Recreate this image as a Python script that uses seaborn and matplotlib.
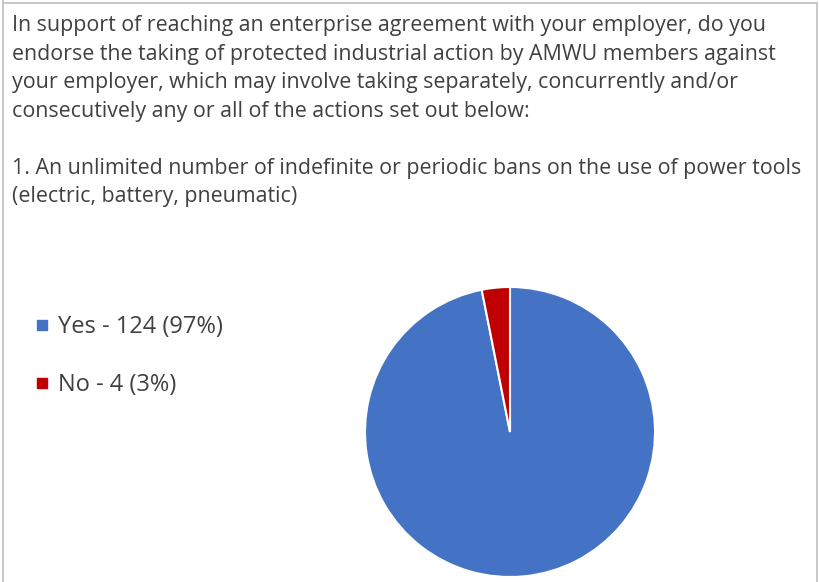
import matplotlib.pyplot as plt
import seaborn as sns
from matplotlib.lines import Line2D

# data
answers = ["Yes", "No"]
counts = [124, 4]
percents = [97, 3]
colors = ["#4472C4", "#C00000"]
title_lines = [
    "In support of reaching an enterprise agreement with your employer, do you",
    "endorse the taking of protected industrial action by AMWU members against",
    "your employer, which may involve taking separately, concurrently and/or",
    "consecutively any or all of the actions set out below:",
    "",
    "1. An unlimited number of indefinite or periodic bans on the use of power tools",
    "(electric, battery, pneumatic)",
]

sns.set_theme(style="white")
plt.rcParams['font.family'] = ['Open Sans', 'DejaVu Sans']

W, H = 819, 582
fig = plt.figure(figsize=(W / 100, H / 100), dpi=100)

# outer frame
for xs, ys in [([3, 3], [0, 582]), ([3, 817], [3, 3]), ([817, 817], [3, 582])]:
    fig.add_artist(Line2D([x / W for x in xs], [1 - y / H for y in ys], color="#BFBFBF", lw=1.2))

# question text
fig.text(12 / W, 1 - 15 / H, "\n".join(title_lines), ha="left", va="top",
         fontsize=15.4, color="#404040", linespacing=1.47)

# pie
cx, cy, r = 510, 432, 145
ax = fig.add_axes([(cx - r) / W, 1 - (cy + r) / H, 2 * r / W, 2 * r / H])
ax.pie(counts, colors=colors, startangle=90, counterclock=False,
       wedgeprops=dict(edgecolor="white", linewidth=1.5))
ax.set_xlim(-1, 1)
ax.set_ylim(-1, 1)
ax.set_aspect("equal")
ax.axis("off")

# legend
labels = [f"{a} - {c} ({p}%)" for a, c, p in zip(answers, counts, percents)]
handles = [Line2D([], [], marker="s", color=c, linestyle="", markersize=7) for c in colors]
leg = fig.legend(handles, labels, loc="upper left", bbox_to_anchor=(14 / W, 1 - 294 / H),
                 frameon=False, fontsize=17, labelspacing=1.45, handlelength=0.55,
                 handletextpad=0.4, labelcolor="#404040")

fig.savefig("out.png", dpi=100)
